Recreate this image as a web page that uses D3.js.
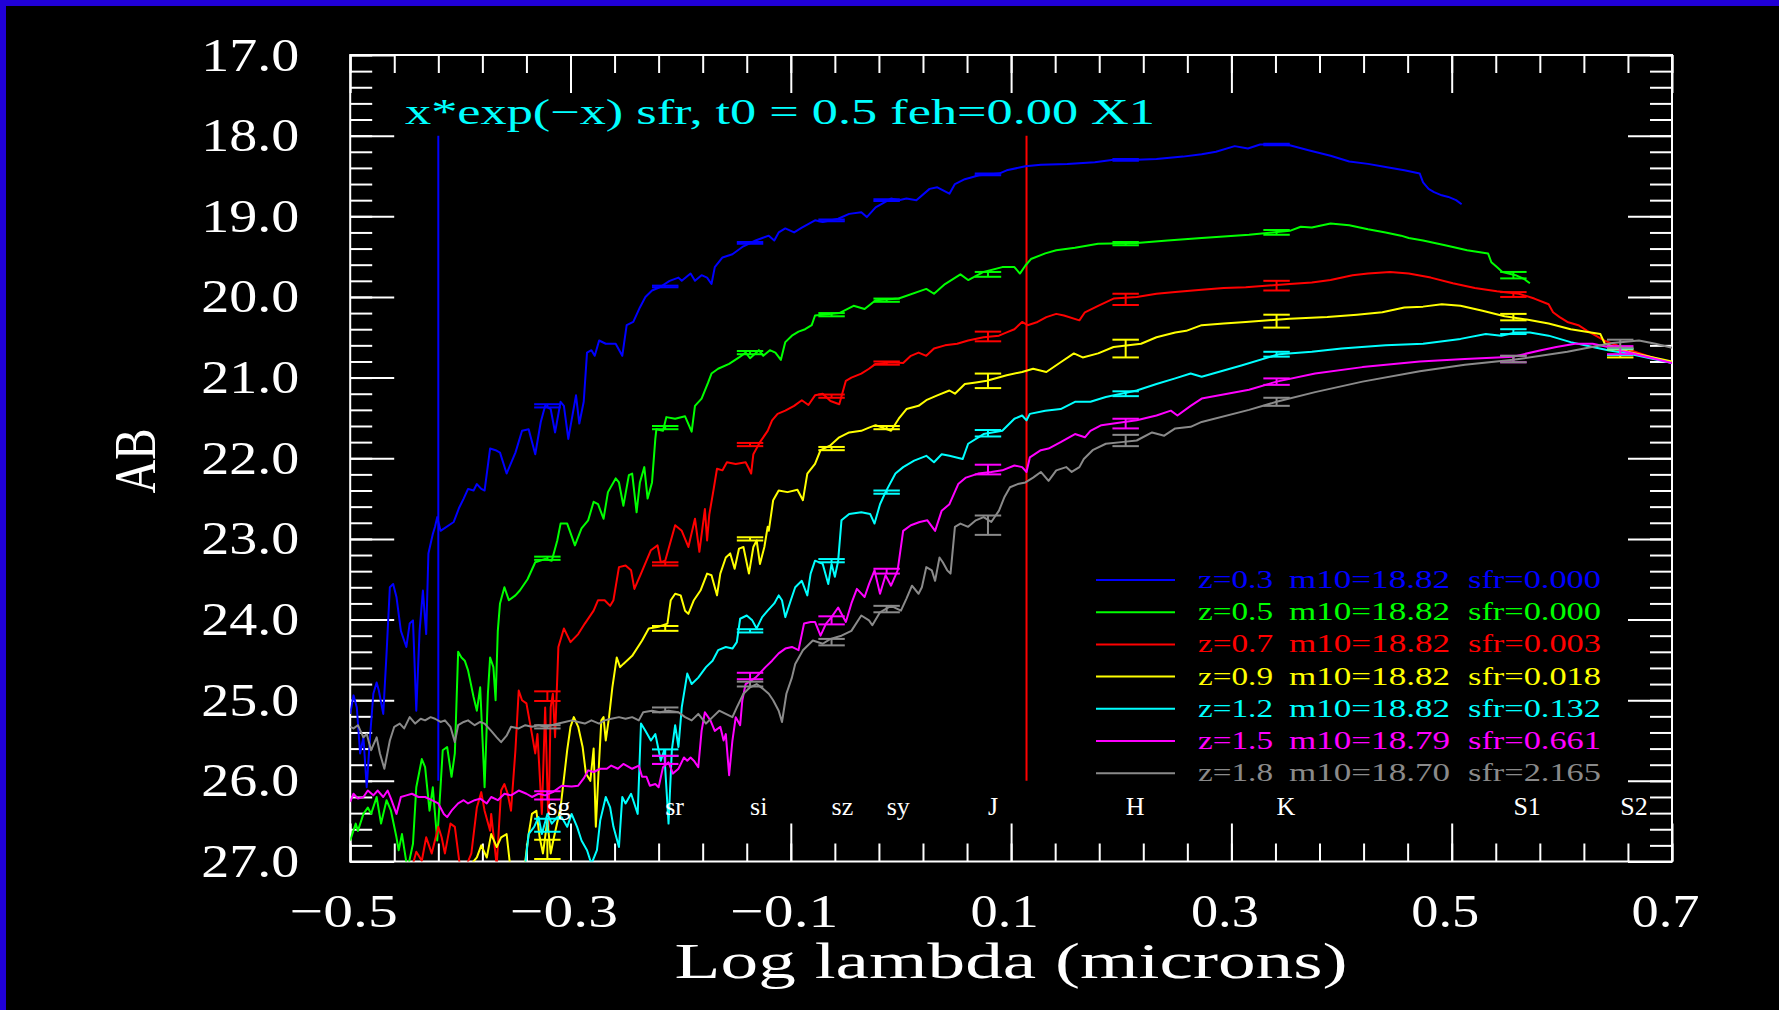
<!DOCTYPE html>
<html>
<head>
<meta charset="utf-8">
<script src="https://cdn.jsdelivr.net/npm/d3@7"></script>
<style>
  html, body { margin: 0; padding: 0; background: #000; overflow: hidden; }
  svg { display: block; }
  text { font-family: "Liberation Serif", "DejaVu Serif", serif; }
</style>
</head>
<body>
<svg id="chart" width="1779" height="1010"></svg>
<script>
// ---- data ----
const xTicks = [-0.5, -0.3, -0.1, 0.1, 0.3, 0.5, 0.7];
const yTicks = [17, 18, 19, 20, 21, 22, 23, 24, 25, 26, 27];
const filterNames = ["sg", "sr", "si", "sz", "sy", "J", "H", "K", "S1", "S2"];
const filterX = [-0.321, -0.214, -0.137, -0.063, -0.013, 0.079, 0.204, 0.341, 0.556, 0.653];
const markerX = [-0.420, 0.114];
const markerAB = [18.0, 26.0];
const titleText = "x*exp(\u2212x) sfr, t0 = 0.5 feh=0.00 X1";

const redshifts = ["0.3", "0.5", "0.7", "0.9", "1.2", "1.5", "1.8"];
const m10 = ["18.82", "18.82", "18.82", "18.82", "18.82", "18.79", "18.70"];
const sfr = ["0.000", "0.000", "0.003", "0.018", "0.132", "0.661", "2.165"];
const colors = ["#0000ff", "#00ff00", "#ff0000", "#ffff00", "#00ffff", "#ff00ff", "#8a8a8a"];

// synthetic magnitudes at each filter (null = none) and their errors
const magZ03 = [21.35, 19.87, 19.33, 19.05, 18.80, 18.48, 18.30, 18.11, null, null];
const errZ03 = [0.02, 0.01, 0.01, 0.01, 0.01, 0.01, 0.01, 0.01, null, null];
const magZ05 = [23.24, 21.62, 20.69, 20.22, 20.04, 19.72, 19.34, 19.20, 19.73, null];
const errZ05 = [0.02, 0.02, 0.02, 0.02, 0.02, 0.03, 0.02, 0.03, 0.04, null];
const magZ07 = [24.95, 23.31, 21.83, 21.23, 20.82, 20.49, 20.03, 19.86, 19.97, 20.68];
const errZ07 = [0.06, 0.02, 0.02, 0.02, 0.02, 0.06, 0.07, 0.06, 0.03, 0.04];
const magZ09 = [26.85, 24.11, 23.00, 21.88, 21.62, 21.04, 20.64, 20.30, 20.25, 20.70];
const errZ09 = [0.12, 0.03, 0.02, 0.02, 0.02, 0.09, 0.11, 0.08, 0.04, 0.05];
const magZ12 = [26.55, 25.65, 24.14, 23.27, 22.42, 21.69, 21.20, 20.71, 20.43, 20.68];
const errZ12 = [0.08, 0.04, 0.02, 0.02, 0.02, 0.04, 0.03, 0.03, 0.03, 0.04];
const magZ15 = [26.18, 25.74, 24.70, 24.01, 23.40, 22.14, 21.57, 21.05, 20.77, 20.66];
const errZ15 = [0.05, 0.05, 0.04, 0.05, 0.03, 0.06, 0.06, 0.04, 0.04, 0.05];
const magZ18 = [25.33, 25.12, 24.80, 24.28, 23.87, 22.83, 21.78, 21.30, 20.77, 20.58];
const errZ18 = [0.02, 0.03, 0.03, 0.04, 0.04, 0.12, 0.07, 0.05, 0.04, 0.05];

// spectra: [log lambda, AB]
const specZ03 = [[-0.500,25.17],[-0.497,24.94],[-0.494,25.09],[-0.491,25.66],[-0.488,25.46],[-0.485,26.08],[-0.482,25.46],[-0.479,24.92],[-0.476,24.78],[-0.474,24.88],[-0.470,25.17],[-0.467,24.42],[-0.464,23.60],[-0.461,23.56],[-0.458,23.72],[-0.454,24.14],[-0.449,24.34],[-0.446,24.05],[-0.443,24.01],[-0.440,25.13],[-0.437,24.14],[-0.434,23.64],[-0.431,24.18],[-0.429,23.18],[-0.425,22.94],[-0.423,22.85],[-0.421,22.73],[-0.418,22.90],[-0.406,22.79],[-0.401,22.61],[-0.397,22.50],[-0.393,22.38],[-0.388,22.40],[-0.385,22.32],[-0.381,22.38],[-0.378,22.40],[-0.373,21.88],[-0.368,21.90],[-0.364,21.93],[-0.358,22.19],[-0.350,21.93],[-0.344,21.66],[-0.338,21.64],[-0.332,21.95],[-0.327,21.55],[-0.323,21.35],[-0.318,21.39],[-0.314,21.68],[-0.309,21.30],[-0.306,21.35],[-0.302,21.76],[-0.295,21.22],[-0.292,21.57],[-0.288,21.30],[-0.285,20.69],[-0.281,20.66],[-0.278,20.73],[-0.274,20.54],[-0.268,20.58],[-0.259,20.58],[-0.253,20.73],[-0.249,20.35],[-0.243,20.31],[-0.237,20.13],[-0.232,20.00],[-0.226,19.92],[-0.219,19.88],[-0.210,19.80],[-0.202,19.76],[-0.199,19.80],[-0.191,19.71],[-0.187,19.80],[-0.181,19.73],[-0.176,19.76],[-0.172,19.84],[-0.169,19.63],[-0.162,19.51],[-0.153,19.47],[-0.144,19.38],[-0.132,19.30],[-0.120,19.24],[-0.115,19.30],[-0.111,19.20],[-0.105,19.15],[-0.097,19.20],[-0.090,19.14],[-0.078,19.05],[-0.071,19.07],[-0.057,19.03],[-0.047,18.97],[-0.036,18.95],[-0.031,19.01],[-0.023,18.89],[-0.009,18.78],[-0.002,18.80],[0.005,18.78],[0.014,18.80],[0.026,18.66],[0.033,18.64],[0.044,18.72],[0.049,18.60],[0.058,18.54],[0.071,18.49],[0.089,18.47],[0.096,18.43],[0.113,18.38],[0.127,18.36],[0.151,18.35],[0.176,18.33],[0.193,18.30],[0.214,18.30],[0.232,18.29],[0.256,18.26],[0.273,18.23],[0.286,18.20],[0.303,18.13],[0.315,18.16],[0.326,18.11],[0.340,18.11],[0.353,18.12],[0.370,18.18],[0.390,18.25],[0.407,18.32],[0.424,18.35],[0.440,18.39],[0.457,18.43],[0.471,18.47],[0.474,18.58],[0.479,18.66],[0.484,18.70],[0.491,18.74],[0.497,18.76],[0.504,18.80],[0.509,18.85]];

const specZ05 = [[-0.500,26.74],[-0.495,26.53],[-0.493,26.62],[-0.488,26.41],[-0.484,26.33],[-0.481,26.41],[-0.476,26.20],[-0.472,26.53],[-0.467,26.24],[-0.463,26.37],[-0.458,26.70],[-0.456,26.86],[-0.453,26.66],[-0.448,27.10],[-0.443,26.78],[-0.440,26.08],[-0.435,25.73],[-0.432,25.83],[-0.428,26.37],[-0.425,26.08],[-0.421,26.74],[-0.418,26.08],[-0.416,25.62],[-0.412,25.58],[-0.408,25.95],[-0.405,25.66],[-0.402,24.40],[-0.399,24.47],[-0.396,24.51],[-0.393,24.63],[-0.388,24.96],[-0.385,25.13],[-0.382,24.84],[-0.379,25.75],[-0.378,26.08],[-0.375,24.92],[-0.373,24.47],[-0.370,24.59],[-0.368,25.00],[-0.366,24.14],[-0.364,23.80],[-0.360,23.60],[-0.356,23.76],[-0.350,23.70],[-0.346,23.64],[-0.339,23.50],[-0.332,23.29],[-0.323,23.25],[-0.317,23.27],[-0.312,23.02],[-0.309,22.81],[-0.303,22.81],[-0.296,23.08],[-0.290,22.87],[-0.284,22.77],[-0.279,22.54],[-0.275,22.57],[-0.270,22.75],[-0.266,22.42],[-0.259,22.25],[-0.256,22.30],[-0.252,22.59],[-0.247,22.21],[-0.244,22.19],[-0.240,22.67],[-0.237,22.30],[-0.233,22.11],[-0.230,22.50],[-0.226,22.30],[-0.223,21.76],[-0.222,21.64],[-0.216,21.66],[-0.213,21.49],[-0.205,21.51],[-0.196,21.48],[-0.190,21.67],[-0.187,21.35],[-0.181,21.26],[-0.175,21.06],[-0.172,20.95],[-0.166,20.89],[-0.156,20.83],[-0.147,20.75],[-0.141,20.69],[-0.137,20.76],[-0.129,20.66],[-0.125,20.73],[-0.119,20.66],[-0.114,20.69],[-0.109,20.78],[-0.105,20.56],[-0.099,20.48],[-0.093,20.43],[-0.087,20.40],[-0.081,20.35],[-0.078,20.23],[-0.056,20.20],[-0.043,20.11],[-0.033,20.15],[-0.023,20.04],[-0.002,20.02],[0.023,19.90],[0.030,19.96],[0.040,19.84],[0.054,19.72],[0.061,19.79],[0.075,19.69],[0.092,19.63],[0.103,19.63],[0.108,19.71],[0.113,19.61],[0.118,19.53],[0.131,19.46],[0.141,19.42],[0.158,19.39],[0.179,19.34],[0.214,19.33],[0.242,19.30],[0.273,19.27],[0.293,19.25],[0.316,19.23],[0.353,19.18],[0.363,19.13],[0.373,19.14],[0.390,19.09],[0.407,19.11],[0.424,19.16],[0.440,19.20],[0.454,19.24],[0.461,19.27],[0.474,19.30],[0.494,19.36],[0.514,19.42],[0.533,19.46],[0.536,19.57],[0.541,19.63],[0.546,19.69],[0.558,19.73],[0.566,19.78],[0.571,19.83]];

const specZ07 = [[-0.450,27.20],[-0.443,27.03],[-0.440,26.88],[-0.435,26.99],[-0.431,26.70],[-0.426,26.90],[-0.420,26.57],[-0.417,26.70],[-0.414,26.90],[-0.409,26.53],[-0.405,26.57],[-0.400,27.10],[-0.396,27.10],[-0.390,26.90],[-0.385,26.33],[-0.381,26.14],[-0.378,26.37],[-0.373,26.62],[-0.372,26.41],[-0.367,27.05],[-0.363,26.12],[-0.360,26.04],[-0.357,26.16],[-0.354,26.37],[-0.350,25.62],[-0.347,24.88],[-0.344,25.00],[-0.340,25.04],[-0.335,25.42],[-0.332,25.66],[-0.330,25.42],[-0.326,26.41],[-0.323,25.09],[-0.320,26.57],[-0.318,25.09],[-0.316,24.92],[-0.314,25.46],[-0.311,24.34],[-0.306,24.11],[-0.300,24.28],[-0.293,24.18],[-0.287,24.05],[-0.279,23.89],[-0.275,23.76],[-0.269,23.76],[-0.264,23.83],[-0.261,23.76],[-0.256,23.35],[-0.250,23.33],[-0.245,23.39],[-0.242,23.62],[-0.236,23.43],[-0.227,23.14],[-0.221,23.08],[-0.218,23.29],[-0.214,23.27],[-0.205,22.83],[-0.199,22.90],[-0.193,23.10],[-0.187,22.75],[-0.183,23.16],[-0.178,22.63],[-0.176,23.02],[-0.174,22.70],[-0.170,22.38],[-0.167,22.13],[-0.162,22.15],[-0.158,22.05],[-0.150,22.07],[-0.141,22.05],[-0.138,22.13],[-0.136,22.19],[-0.134,21.95],[-0.128,21.80],[-0.121,21.66],[-0.117,21.53],[-0.112,21.45],[-0.105,21.41],[-0.097,21.35],[-0.090,21.28],[-0.084,21.34],[-0.078,21.22],[-0.071,21.20],[-0.064,21.29],[-0.056,21.33],[-0.050,21.04],[-0.045,21.00],[-0.036,20.95],[-0.029,20.89],[-0.023,20.83],[-0.009,20.81],[0.002,20.82],[0.009,20.73],[0.016,20.69],[0.023,20.73],[0.030,20.64],[0.040,20.60],[0.051,20.58],[0.061,20.54],[0.075,20.50],[0.089,20.48],[0.096,20.44],[0.103,20.40],[0.110,20.31],[0.115,20.35],[0.124,20.31],[0.132,20.25],[0.141,20.21],[0.148,20.23],[0.162,20.29],[0.167,20.19],[0.179,20.11],[0.193,20.02],[0.214,20.00],[0.232,19.96],[0.249,19.94],[0.273,19.91],[0.293,19.89],[0.313,19.88],[0.353,19.84],[0.373,19.82],[0.390,19.79],[0.410,19.73],[0.424,19.71],[0.444,19.69],[0.461,19.71],[0.481,19.76],[0.501,19.83],[0.521,19.89],[0.541,19.93],[0.561,19.96],[0.575,20.02],[0.588,20.09],[0.592,20.19],[0.598,20.25],[0.605,20.31],[0.615,20.35],[0.623,20.42],[0.640,20.55],[0.660,20.65],[0.680,20.74],[0.700,20.82]];

const specZ09 = [[-0.392,27.20],[-0.390,27.03],[-0.385,26.95],[-0.381,26.80],[-0.376,26.95],[-0.372,26.66],[-0.367,26.82],[-0.363,26.70],[-0.358,26.66],[-0.355,27.03],[-0.348,27.20],[-0.341,26.99],[-0.338,26.66],[-0.335,26.41],[-0.331,26.37],[-0.328,26.70],[-0.325,26.90],[-0.321,26.49],[-0.318,26.90],[-0.315,26.70],[-0.309,26.33],[-0.303,25.62],[-0.300,25.33],[-0.297,25.21],[-0.293,25.33],[-0.289,25.58],[-0.286,25.91],[-0.282,26.00],[-0.279,25.60],[-0.277,26.57],[-0.274,25.75],[-0.272,25.25],[-0.270,25.21],[-0.268,25.50],[-0.265,25.21],[-0.262,24.84],[-0.258,24.47],[-0.255,24.59],[-0.252,24.55],[-0.244,24.45],[-0.235,24.26],[-0.229,24.11],[-0.220,24.09],[-0.212,24.05],[-0.209,23.76],[-0.205,23.68],[-0.200,23.70],[-0.196,23.89],[-0.193,23.93],[-0.188,23.76],[-0.182,23.64],[-0.176,23.43],[-0.172,23.45],[-0.167,23.70],[-0.164,23.43],[-0.159,23.23],[-0.155,23.18],[-0.151,23.37],[-0.147,23.12],[-0.143,23.10],[-0.138,23.43],[-0.134,23.10],[-0.131,23.02],[-0.128,23.31],[-0.124,23.10],[-0.121,22.85],[-0.120,22.90],[-0.116,22.52],[-0.111,22.40],[-0.103,22.42],[-0.094,22.39],[-0.089,22.52],[-0.085,22.19],[-0.078,22.07],[-0.073,21.90],[-0.064,21.84],[-0.056,21.74],[-0.047,21.68],[-0.036,21.66],[-0.029,21.62],[-0.023,21.59],[-0.009,21.66],[-0.002,21.51],[0.005,21.39],[0.016,21.35],[0.023,21.28],[0.033,21.22],[0.044,21.16],[0.049,21.20],[0.058,21.08],[0.068,21.06],[0.078,21.04],[0.096,20.97],[0.110,20.93],[0.120,20.89],[0.132,20.93],[0.145,20.81],[0.157,20.70],[0.165,20.75],[0.179,20.70],[0.193,20.62],[0.218,20.58],[0.232,20.50],[0.249,20.44],[0.259,20.42],[0.273,20.35],[0.293,20.33],[0.313,20.31],[0.353,20.27],[0.387,20.25],[0.414,20.22],[0.437,20.19],[0.457,20.13],[0.474,20.12],[0.491,20.09],[0.508,20.11],[0.528,20.17],[0.548,20.24],[0.568,20.28],[0.588,20.33],[0.608,20.40],[0.635,20.46],[0.639,20.58],[0.660,20.68],[0.680,20.74],[0.700,20.80]];

const specZ12 = [[-0.343,27.20],[-0.341,27.03],[-0.338,26.66],[-0.333,26.57],[-0.329,26.45],[-0.326,26.66],[-0.321,26.41],[-0.317,26.53],[-0.312,26.45],[-0.308,26.45],[-0.303,26.57],[-0.299,26.41],[-0.294,26.57],[-0.290,26.74],[-0.285,26.86],[-0.281,27.03],[-0.276,26.86],[-0.273,26.49],[-0.268,26.20],[-0.264,26.33],[-0.261,26.57],[-0.256,26.82],[-0.253,26.20],[-0.250,26.28],[-0.245,26.16],[-0.239,26.41],[-0.236,25.29],[-0.232,25.38],[-0.227,25.50],[-0.223,25.42],[-0.218,25.75],[-0.215,25.62],[-0.211,26.53],[-0.208,25.62],[-0.205,25.31],[-0.202,25.58],[-0.199,25.09],[-0.194,24.67],[-0.190,24.80],[-0.184,24.72],[-0.177,24.59],[-0.171,24.51],[-0.166,24.38],[-0.159,24.34],[-0.153,24.36],[-0.149,24.28],[-0.146,23.99],[-0.140,23.95],[-0.135,24.01],[-0.131,24.11],[-0.126,23.97],[-0.121,23.89],[-0.115,23.80],[-0.111,23.70],[-0.108,23.76],[-0.105,23.97],[-0.100,23.76],[-0.096,23.60],[-0.090,23.52],[-0.085,23.70],[-0.082,23.43],[-0.078,23.27],[-0.071,23.31],[-0.066,23.56],[-0.063,23.31],[-0.060,23.47],[-0.057,23.27],[-0.054,22.77],[-0.047,22.69],[-0.036,22.67],[-0.028,22.69],[-0.024,22.81],[-0.019,22.57],[-0.014,22.42],[-0.005,22.19],[0.002,22.11],[0.012,22.03],[0.023,21.97],[0.030,22.05],[0.037,21.95],[0.044,21.97],[0.056,22.01],[0.061,21.82],[0.075,21.70],[0.092,21.66],[0.103,21.51],[0.110,21.47],[0.114,21.53],[0.117,21.45],[0.131,21.41],[0.145,21.39],[0.158,21.30],[0.172,21.30],[0.186,21.24],[0.214,21.16],[0.232,21.08],[0.249,21.01],[0.263,20.95],[0.273,20.99],[0.309,20.85],[0.343,20.71],[0.373,20.68],[0.400,20.64],[0.440,20.60],[0.474,20.58],[0.508,20.52],[0.531,20.46],[0.545,20.48],[0.558,20.44],[0.571,20.44],[0.588,20.48],[0.608,20.56],[0.628,20.62],[0.642,20.66],[0.660,20.70],[0.680,20.76],[0.700,20.82]];

const specZ15 = [[-0.500,26.26],[-0.497,26.16],[-0.493,26.22],[-0.488,26.20],[-0.484,26.12],[-0.479,26.18],[-0.475,26.12],[-0.470,26.20],[-0.466,26.12],[-0.463,26.22],[-0.458,26.41],[-0.454,26.20],[-0.449,26.18],[-0.444,26.16],[-0.438,26.20],[-0.432,26.20],[-0.426,26.24],[-0.420,26.28],[-0.415,26.41],[-0.412,26.45],[-0.408,26.37],[-0.402,26.28],[-0.397,26.24],[-0.393,26.28],[-0.387,26.24],[-0.382,26.22],[-0.376,26.28],[-0.372,26.20],[-0.366,26.24],[-0.360,26.16],[-0.354,26.18],[-0.347,26.12],[-0.340,26.16],[-0.335,26.20],[-0.329,26.16],[-0.323,26.18],[-0.316,26.14],[-0.308,26.06],[-0.299,26.07],[-0.293,26.06],[-0.288,25.97],[-0.284,25.87],[-0.279,25.89],[-0.273,25.85],[-0.267,25.85],[-0.263,25.81],[-0.257,25.85],[-0.252,25.79],[-0.244,25.85],[-0.238,25.81],[-0.235,25.95],[-0.231,25.95],[-0.228,26.06],[-0.223,26.04],[-0.220,26.08],[-0.216,25.83],[-0.211,25.77],[-0.207,25.91],[-0.202,25.85],[-0.197,25.71],[-0.194,25.75],[-0.191,25.71],[-0.188,25.75],[-0.184,25.83],[-0.181,25.38],[-0.178,25.15],[-0.173,25.25],[-0.169,25.38],[-0.164,25.33],[-0.161,25.50],[-0.159,25.42],[-0.156,25.93],[-0.153,25.50],[-0.150,25.21],[-0.146,25.31],[-0.144,25.00],[-0.141,24.80],[-0.132,24.72],[-0.123,24.59],[-0.117,24.51],[-0.111,24.42],[-0.105,24.36],[-0.099,24.34],[-0.093,24.38],[-0.088,24.05],[-0.082,24.03],[-0.078,24.03],[-0.073,24.20],[-0.068,24.05],[-0.063,23.97],[-0.057,23.85],[-0.050,24.03],[-0.045,23.80],[-0.040,23.62],[-0.033,23.72],[-0.029,23.56],[-0.024,23.39],[-0.019,23.68],[-0.014,23.45],[-0.009,23.58],[-0.003,23.39],[0.002,22.90],[0.009,22.83],[0.017,22.79],[0.024,22.77],[0.031,22.90],[0.037,22.65],[0.044,22.57],[0.052,22.32],[0.059,22.24],[0.070,22.19],[0.082,22.17],[0.092,22.15],[0.103,22.09],[0.110,22.11],[0.114,22.17],[0.117,21.99],[0.127,21.90],[0.134,21.88],[0.145,21.80],[0.158,21.70],[0.167,21.74],[0.172,21.66],[0.182,21.59],[0.193,21.57],[0.214,21.53],[0.232,21.47],[0.245,21.41],[0.251,21.47],[0.263,21.35],[0.273,21.26],[0.316,21.15],[0.341,21.05],[0.376,20.95],[0.419,20.87],[0.471,20.80],[0.512,20.77],[0.556,20.74],[0.581,20.66],[0.595,20.62],[0.612,20.58],[0.628,20.58],[0.642,20.62],[0.670,20.72],[0.700,20.82]];

const specZ18 = [[-0.500,25.33],[-0.497,25.35],[-0.493,25.31],[-0.488,25.46],[-0.485,25.42],[-0.481,25.62],[-0.476,25.46],[-0.473,25.66],[-0.469,25.85],[-0.464,25.50],[-0.460,25.33],[-0.455,25.29],[-0.451,25.35],[-0.446,25.21],[-0.441,25.29],[-0.436,25.23],[-0.432,25.25],[-0.427,25.21],[-0.423,25.23],[-0.418,25.27],[-0.414,25.25],[-0.409,25.33],[-0.405,25.52],[-0.402,25.31],[-0.397,25.27],[-0.393,25.25],[-0.387,25.31],[-0.382,25.27],[-0.378,25.29],[-0.372,25.38],[-0.367,25.46],[-0.363,25.52],[-0.358,25.44],[-0.354,25.33],[-0.347,25.35],[-0.341,25.31],[-0.335,25.33],[-0.329,25.31],[-0.323,25.33],[-0.317,25.31],[-0.311,25.29],[-0.305,25.27],[-0.299,25.25],[-0.293,25.27],[-0.287,25.29],[-0.281,25.25],[-0.274,25.29],[-0.269,25.25],[-0.263,25.23],[-0.256,25.21],[-0.250,25.23],[-0.244,25.21],[-0.238,25.25],[-0.234,25.15],[-0.226,25.13],[-0.219,25.15],[-0.211,25.13],[-0.202,25.15],[-0.196,25.21],[-0.190,25.25],[-0.184,25.17],[-0.177,25.29],[-0.171,25.21],[-0.165,25.13],[-0.159,25.17],[-0.153,25.21],[-0.149,25.09],[-0.143,24.92],[-0.137,24.84],[-0.131,24.80],[-0.125,24.86],[-0.120,24.92],[-0.116,25.00],[-0.111,25.13],[-0.108,25.27],[-0.104,24.92],[-0.099,24.72],[-0.096,24.55],[-0.089,24.38],[-0.080,24.26],[-0.071,24.30],[-0.064,24.24],[-0.054,24.20],[-0.045,24.14],[-0.036,23.95],[-0.029,24.01],[-0.026,24.07],[-0.019,23.91],[-0.009,23.83],[0.000,23.89],[0.005,23.74],[0.010,23.58],[0.016,23.68],[0.019,23.60],[0.023,23.35],[0.028,23.39],[0.031,23.52],[0.035,23.23],[0.038,23.29],[0.042,23.39],[0.045,23.43],[0.049,22.85],[0.054,22.81],[0.061,22.85],[0.068,22.77],[0.075,22.73],[0.082,22.79],[0.089,22.65],[0.094,22.48],[0.099,22.36],[0.106,22.32],[0.113,22.30],[0.120,22.24],[0.127,22.17],[0.134,22.28],[0.141,22.15],[0.150,22.11],[0.155,22.17],[0.162,22.11],[0.166,22.01],[0.174,21.90],[0.186,21.82],[0.200,21.80],[0.214,21.78],[0.228,21.68],[0.239,21.72],[0.249,21.63],[0.263,21.61],[0.273,21.55],[0.316,21.40],[0.341,21.30],[0.376,21.18],[0.419,21.05],[0.471,20.92],[0.512,20.84],[0.556,20.78],[0.605,20.68],[0.646,20.57],[0.670,20.54],[0.685,20.58],[0.700,20.63]];

const spectra = [specZ03, specZ05, specZ07, specZ09, specZ12, specZ15, specZ18];
const mags = [magZ03, magZ05, magZ07, magZ09, magZ12, magZ15, magZ18];
const errs = [errZ03, errZ05, errZ07, errZ09, errZ12, errZ15, errZ18];

// ---- layout ----
const W = 1779, H = 1010;
const frame = { left: 350.2, right: 1672, top: 55, bottom: 861.5 };
const capHalf = 0.012;

const svg = d3.select("#chart");
svg.append("rect").attr("width", W).attr("height", H).attr("fill", "#000");
// blue border on the top and left edges
svg.append("rect").attr("x", 0).attr("y", 0).attr("width", W).attr("height", 6).attr("fill", "#2000d8");
svg.append("rect").attr("x", 0).attr("y", 0).attr("width", 6).attr("height", H).attr("fill", "#2000d8");

const x = d3.scaleLinear().domain([-0.5, 0.7]).range([frame.left, frame.right]);
const y = d3.scaleLinear().domain([17, 27]).range([frame.top, frame.bottom]);

const xMinor = d3.range(0, 31).map(i => -0.5 + i * 0.04);
const yMinor = d3.range(0, 51).map(i => 17 + i * 0.2);

svg.append("defs").append("clipPath").attr("id", "plotClip")
  .append("rect")
  .attr("x", frame.left).attr("y", frame.top)
  .attr("width", frame.right - frame.left).attr("height", frame.bottom - frame.top);

function addAxis(gen, tx, ty) {
  const g = svg.append("g")
    .attr("transform", `translate(${tx},${ty})`)
    .attr("color", "#fff")
    .call(gen);
  g.select(".domain").remove();
  g.selectAll("line").attr("stroke-width", 2);
  return g;
}

// inward ticks on all four sides
addAxis(d3.axisBottom(x).tickValues(xMinor).tickSize(-18).tickFormat(""), 0, frame.bottom);
addAxis(d3.axisTop(x).tickValues(xMinor).tickSize(-18).tickFormat(""), 0, frame.top);
addAxis(d3.axisTop(x).tickValues(xTicks).tickSize(-38).tickFormat(""), 0, frame.top);
addAxis(d3.axisLeft(y).tickValues(yMinor).tickSize(-22).tickFormat(""), frame.left, 0);
addAxis(d3.axisRight(y).tickValues(yMinor).tickSize(-22).tickFormat(""), frame.right, 0);
addAxis(d3.axisRight(y).tickValues(yTicks).tickSize(-44).tickFormat(""), frame.right, 0);

const xAxis = addAxis(d3.axisBottom(x).tickValues(xTicks).tickSize(-38).tickPadding(32)
  .tickFormat(d3.format(".1f")), 0, frame.bottom);
xAxis.selectAll("text")
  .attr("font-family", "Liberation Serif, DejaVu Serif, serif")
  .attr("font-size", 47)
  .attr("x", -7)
  .attr("textLength", d => d < 0 ? 108 : 68)
  .attr("lengthAdjust", "spacingAndGlyphs");

const yAxis = addAxis(d3.axisLeft(y).tickValues(yTicks).tickSize(-44).tickPadding(51)
  .tickFormat(d3.format(".1f")), frame.left, 0);
yAxis.selectAll("text")
  .attr("font-family", "Liberation Serif, DejaVu Serif, serif")
  .attr("font-size", 47)
  .attr("textLength", 98)
  .attr("lengthAdjust", "spacingAndGlyphs");

svg.append("rect")
  .attr("x", frame.left).attr("y", frame.top)
  .attr("width", frame.right - frame.left).attr("height", frame.bottom - frame.top)
  .attr("fill", "none").attr("stroke", "#fff").attr("stroke-width", 2);

// axis titles
svg.append("text")
  .attr("x", (frame.left + frame.right) / 2).attr("y", 978)
  .attr("text-anchor", "middle").attr("fill", "#fff").attr("font-size", 51)
  .attr("textLength", 673).attr("lengthAdjust", "spacingAndGlyphs")
  .text("Log lambda (microns)");

svg.append("text")
  .attr("transform", "translate(155,461) rotate(-90)")
  .attr("text-anchor", "middle").attr("fill", "#fff").attr("font-size", 60)
  .attr("textLength", 65).attr("lengthAdjust", "spacingAndGlyphs")
  .text("AB");

// title inside plot
svg.append("text")
  .attr("x", 405).attr("y", 123.5).attr("fill", "#00ffff").attr("font-size", 35)
  .attr("textLength", 750).attr("lengthAdjust", "spacingAndGlyphs")
  .text(titleText);

const plot = svg.append("g").attr("clip-path", "url(#plotClip)");

// reference wavelength markers
plot.selectAll("line.marker")
  .data(markerX)
  .join("line")
  .attr("class", "marker")
  .attr("x1", d => x(d)).attr("x2", d => x(d))
  .attr("y1", y(markerAB[0])).attr("y2", y(markerAB[1]))
  .attr("stroke", (d, i) => i === 0 ? colors[0] : colors[2])
  .attr("stroke-width", 2);

const line = d3.line().x(d => x(d[0])).y(d => y(d[1]));

spectra.forEach((spec, k) => {
  plot.append("path")
    .datum(spec)
    .attr("d", line)
    .attr("fill", "none")
    .attr("stroke", colors[k])
    .attr("stroke-width", 2)
    .attr("stroke-linejoin", "round");
});

// error bars at the filter wavelengths
spectra.forEach((spec, k) => {
  const pts = filterX.map((fx, i) => ({ fx, m: mags[k][i], e: errs[k][i] }))
    .filter(d => d.m !== null);
  const g = plot.append("g").attr("stroke", colors[k]).attr("stroke-width", 2);
  g.selectAll("line.v").data(pts).join("line").attr("class", "v")
    .attr("x1", d => x(d.fx)).attr("x2", d => x(d.fx))
    .attr("y1", d => y(d.m - d.e)).attr("y2", d => y(d.m + d.e));
  g.selectAll("line.top").data(pts).join("line").attr("class", "top")
    .attr("x1", d => x(d.fx - capHalf)).attr("x2", d => x(d.fx + capHalf))
    .attr("y1", d => y(d.m - d.e)).attr("y2", d => y(d.m - d.e));
  g.selectAll("line.bot").data(pts).join("line").attr("class", "bot")
    .attr("x1", d => x(d.fx - capHalf)).attr("x2", d => x(d.fx + capHalf))
    .attr("y1", d => y(d.m + d.e)).attr("y2", d => y(d.m + d.e));
});

// filter labels
svg.selectAll("text.filter")
  .data(filterNames)
  .join("text")
  .attr("class", "filter")
  .attr("x", (d, i) => x(filterX[i]))
  .attr("y", 815)
  .attr("fill", "#fff")
  .attr("font-size", 26)
  .text(d => d);

// legend
const legY0 = 580, legDy = 32.2;
const legCols = [1198, 1289, 1468];
const legLens = [75, 161, 133];
redshifts.forEach((z, i) => {
  const ly = legY0 + i * legDy;
  svg.append("line")
    .attr("x1", 1096).attr("x2", 1175).attr("y1", ly).attr("y2", ly)
    .attr("stroke", colors[i]).attr("stroke-width", 2);
  const parts = [`z=${z}`, `m10=${m10[i]}`, `sfr=${sfr[i]}`];
  parts.forEach((p, j) => {
    svg.append("text")
      .attr("x", legCols[j]).attr("y", ly + 8)
      .attr("fill", colors[i]).attr("font-size", 25)
      .attr("textLength", legLens[j]).attr("lengthAdjust", "spacingAndGlyphs")
      .text(p);
  });
});
</script>
</body>
</html>
